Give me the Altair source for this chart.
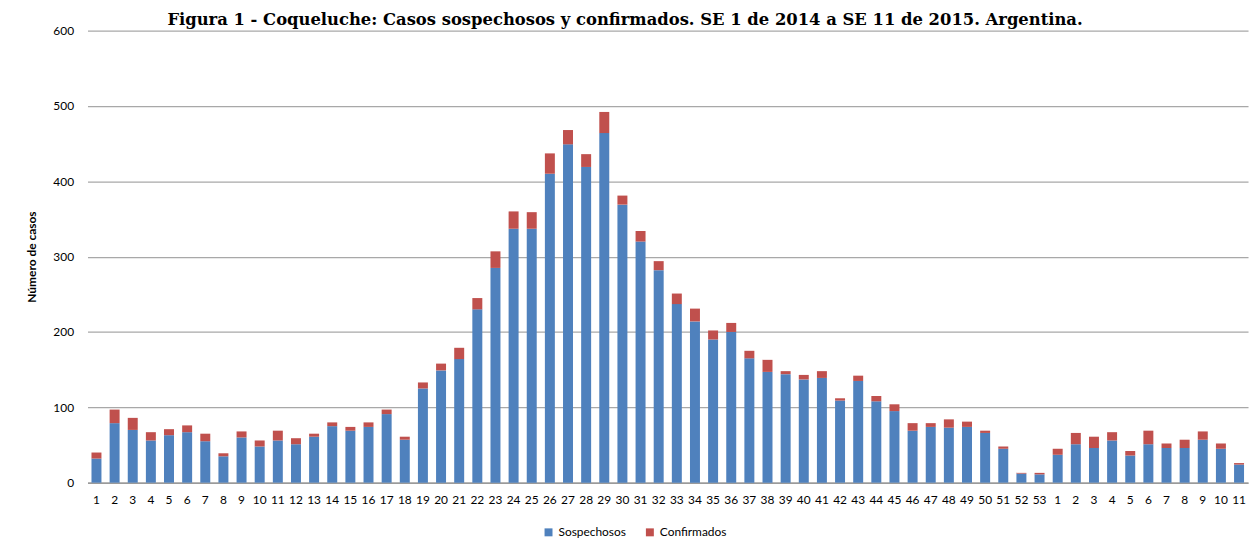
import altair as alt
import pandas as pd

semanas_2014 = [str(i) for i in range(1, 54)]
semanas_2015 = [str(i) for i in range(1, 12)]

sospechosos = [32, 79, 70, 56, 63, 67, 55, 35, 60, 48, 56, 51, 61, 75, 69, 74, 91, 57,
               125, 149, 164, 230, 285, 337, 337, 410, 449, 419, 464, 369, 320, 282, 237,
               214, 190, 200, 165, 147, 144, 137, 139, 109, 135, 108, 95, 69, 74, 73, 74,
               66, 45, 12, 11,
               37, 51, 46, 56, 36, 51, 46, 46, 57, 45, 24]
confirmados = [8, 18, 16, 11, 8, 9, 10, 4, 8, 8, 13, 8, 4, 5, 5, 6, 6, 4,
               8, 9, 15, 15, 22, 23, 22, 27, 19, 17, 28, 12, 14, 12, 14,
               17, 12, 12, 10, 16, 4, 6, 9, 3, 7, 7, 9, 10, 5, 11, 7,
               3, 3, 1, 2,
               8, 15, 15, 11, 6, 18, 6, 11, 11, 7, 2]

series = ["Sospechosos", "Confirmados"]
colores = ["#4F81BD", "#C0504D"]
titulo = ["Figura 1 - Coqueluche: Casos sospechosos y confirmados. SE 1 de 2014 a SE 11 de 2015. Argentina."]

claves = ["2014-" + s for s in semanas_2014] + ["2015-" + s for s in semanas_2015]

rows = []
for i, k in enumerate(claves):
    rows.append({"semana": k, "serie": series[0], "orden": 0, "casos": sospechosos[i]})
    rows.append({"semana": k, "serie": series[1], "orden": 1, "casos": confirmados[i]})
df = pd.DataFrame(rows)

FONT = "Lato"

bars = alt.Chart(df).mark_bar().encode(
    x=alt.X("semana:N", sort=claves, title=None,
            scale=alt.Scale(paddingInner=0.45, paddingOuter=0.22),
            axis=alt.Axis(labelExpr="split(datum.value, '-')[1]", labelAngle=0,
                          ticks=False, domainColor="#9a9a9a", domainWidth=1.5,
                          labelPadding=12, labelFontSize=12, labelFont=FONT,
                          labelColor="#000000", grid=False)),
    y=alt.Y("casos:Q", stack="zero", title="Número de casos",
            scale=alt.Scale(domain=[0, 600]),
            axis=alt.Axis(values=[0, 100, 200, 300, 400, 500, 600], ticks=False,
                          domain=False, gridColor="#a8a8a8", gridWidth=1.2,
                          labelPadding=14, labelFontSize=12, labelFont=FONT,
                          labelColor="#000000", titleFont=FONT, titleFontSize=12,
                          titleFontWeight="bold", titleColor="#000000",
                          titlePadding=14)),
    color=alt.Color("serie:N", scale=alt.Scale(domain=series, range=colores),
                    legend=alt.Legend(title=None, orient="none", direction="horizontal",
                                      legendX=458, legendY=499, symbolType="square",
                                      symbolSize=64, symbolStrokeWidth=0,
                                      labelFont=FONT, labelFontSize=12,
                                      labelColor="#000000", columnPadding=18)),
    order=alt.Order("orden:Q", sort="ascending"),
)

title_text = alt.Chart(pd.DataFrame({"t": titulo})).mark_text(
    font="DejaVu Serif", fontSize=16.5, fontWeight="bold", color="#000000",
    align="center", baseline="alphabetic",
).encode(text="t:N", x=alt.value(541), y=alt.value(-6))

chart = alt.layer(bars, title_text).properties(
    width=1168,
    height=455,
    padding={"left": 80, "top": 21, "right": 4, "bottom": 58},
    autosize=alt.AutoSizeParams(type="none"),
).configure_view(stroke=None)

chart.save("out.html", embed_options={"renderer": "svg", "actions": False})
